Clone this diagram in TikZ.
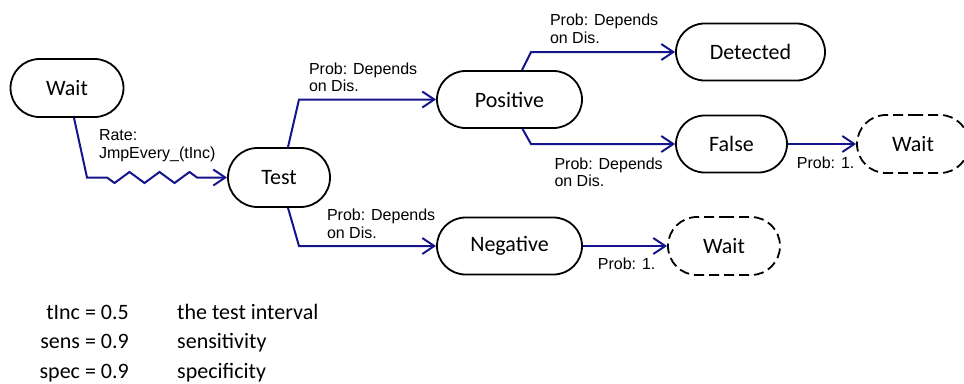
\documentclass[tikz,border=0pt]{standalone}
\usepackage{fontspec}
\setmainfont{Carlito}
\newfontfamily\lblfont{Liberation Sans}
\usetikzlibrary{arrows.meta}
\usetikzlibrary{calc}
\usetikzlibrary{shapes.misc}
\usetikzlibrary{decorations.pathmorphing}
\definecolor{navyline}{RGB}{20,20,140}

\begin{document}
\begin{tikzpicture}[x=1pt,y=-1pt]
        \tikzset{state_node/.style = {rounded rectangle,draw=black,line width=1.8pt,minimum height=57pt,inner sep=0pt,font=\fontsize{22}{26}\selectfont}}
        \tikzset{wait_node/.style = {state_node,dash pattern=on 10pt off 5pt}}
        \tikzset{flow_edge/.style = {-{Straight Barb[length=12pt,width=16pt]},line width=2pt,color=navyline}}
        \tikzset{flow_label/.style = {anchor=north west,inner sep=0pt,align=left,text=black,font=\lblfont\fontsize{16}{17.5}\selectfont}}
        \tikzset{param_text/.style = {inner sep=0pt,font=\fontsize{22}{26}\selectfont}}

        \useasboundingbox (0,0) rectangle (964,383);

        \node[state_node,minimum width=113pt,minimum height=58pt] (wait) at (67,88) {Wait};
        \node[state_node,minimum width=102pt,minimum height=59pt] (test) at (279,177.5) {Test};
        \node[state_node,minimum width=145pt] (positive) at (509.5,99.5) {Positive};
        \node[state_node,minimum width=145pt] (negative) at (509.5,246) {Negative};
        \node[state_node,minimum width=149pt] (detected) at (750.5,52) {Detected};
        \node[state_node,minimum width=111pt] (false) at (731.5,144) {False};
        \node[wait_node,minimum width=112pt,minimum height=58pt] (waitF) at (913,144) {Wait};
        \node[wait_node,minimum width=112pt,minimum height=58pt] (waitN) at (724,246) {Wait};

        \draw[flow_edge] ([xshift=7pt]wait.south) -- ([xshift=20pt]wait.south |- test.west)
            node[flow_label,xshift=11pt,yshift=49pt]{Rate:\\JmpEvery\_(tInc)}
            decorate[decoration={zigzag,segment length=30pt,amplitude=5.5pt,pre length=20pt,post length=30pt,mirror}]{-- (test.west)};
        \draw[flow_edge] ([xshift=9pt]test.north) -- ([xshift=20pt]test.north |- positive.west)
            node[flow_label,xshift=9pt,yshift=38pt]{Prob: Depends\\on Dis.} -- (positive.west);
        \draw[flow_edge] ([xshift=9pt]test.south) -- ([xshift=20pt]test.south |- negative.west)
            node[flow_label,xshift=27pt,yshift=38pt]{Prob: Depends\\on Dis.} -- (negative.west);
        \draw[flow_edge] ([xshift=12.5pt]positive.north) -- ([xshift=21.5pt]positive.north |- detected.west)
            node[flow_label,xshift=18pt,yshift=39pt]{Prob: Depends\\on Dis.} -- (detected.west);
        \draw[flow_edge] ([xshift=13pt]positive.south) -- ([xshift=21.5pt]positive.south |- false.west)
            node[flow_label,xshift=22.5pt,yshift=-12.5pt]{Prob: Depends\\on Dis.} -- (false.west);
        \draw[flow_edge] (false.east) node[flow_label,xshift=8pt,yshift=-11.5pt]{Prob: 1.} -- (waitF.west);
        \draw[flow_edge] (negative.east) node[flow_label,xshift=14pt,yshift=-11pt]{Prob: 1.} -- (waitN.west);

        \node[param_text,anchor=base east] (tinc) at (129,319) {tInc = 0.5};
        \node[param_text,anchor=base west] (tincinfo) at (177,319) {the test interval};
        \node[param_text,anchor=base east] (sens) at (129,348.5) {sens = 0.9};
        \node[param_text,anchor=base west] (sensinfo) at (177,348.5) {sensitivity};
        \node[param_text,anchor=base east] (spec) at (129,378) {spec = 0.9};
        \node[param_text,anchor=base west] (specinfo) at (177,378) {specificity};
    \end{tikzpicture}
\end{document}
